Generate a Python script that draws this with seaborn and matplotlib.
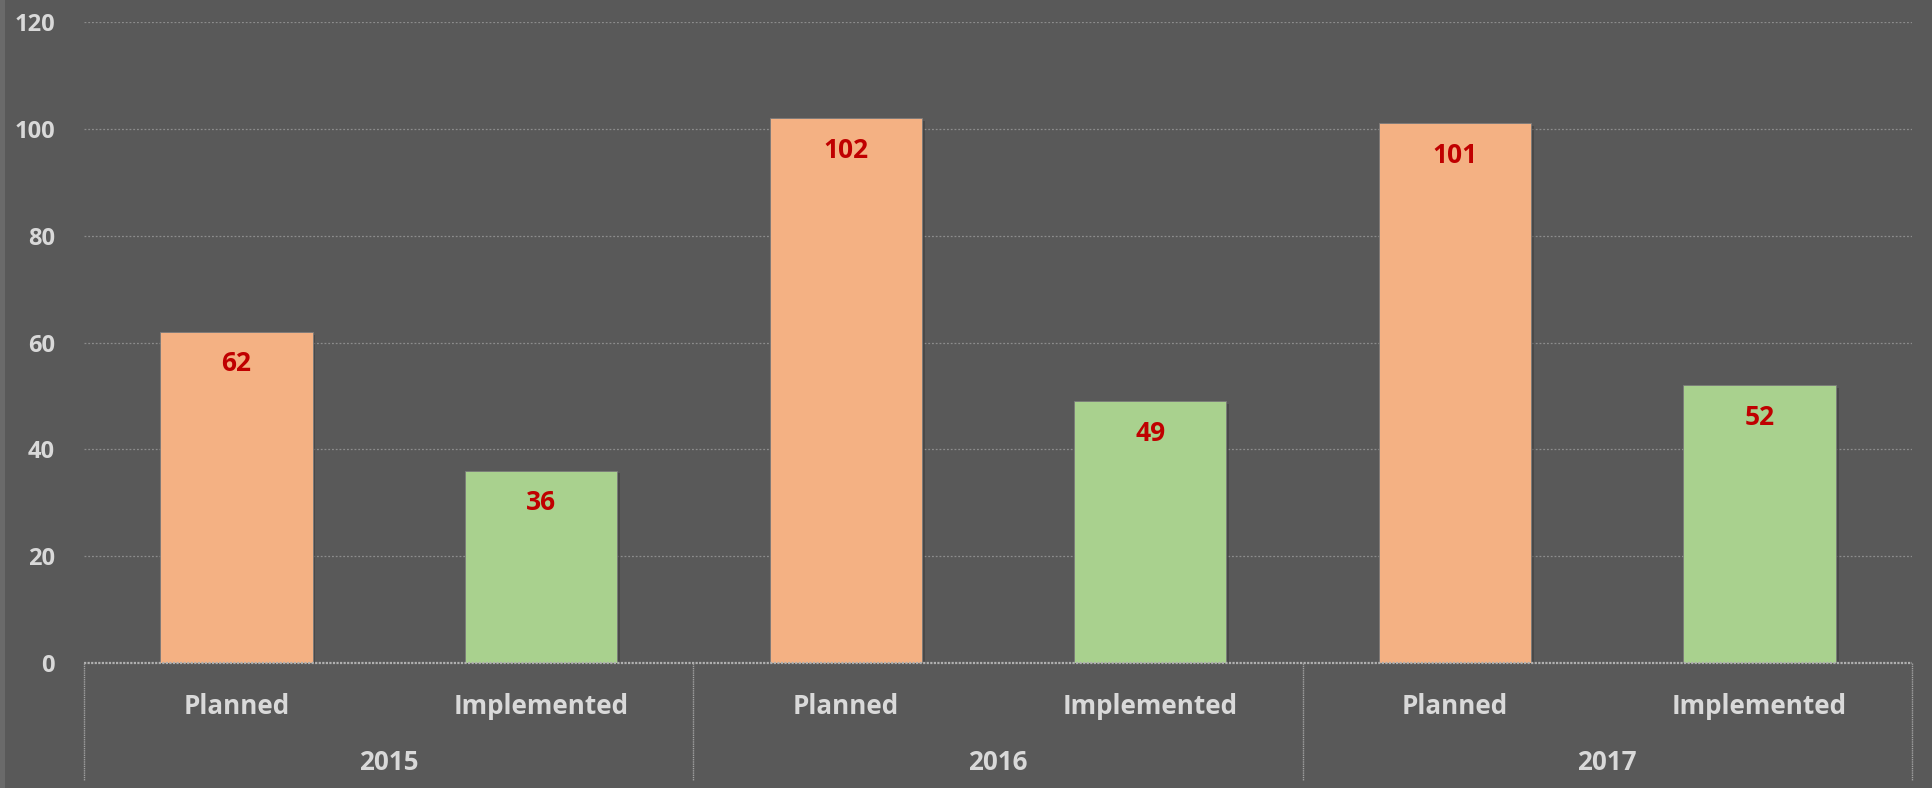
import matplotlib
matplotlib.use("Agg")
import matplotlib.pyplot as plt
import matplotlib.patheffects as pe
import seaborn as sns
import pandas as pd
import numpy as np

years = ["2015", "2016", "2017"]
statuses = ["Planned", "Implemented"]
planned = [62, 102, 101]
implemented = [36, 49, 52]
y_ticks = [0, 20, 40, 60, 80, 100, 120]

BG = "#595959"
TXT = "#D9D9D9"
colors = {"Planned": "#F4B183", "Implemented": "#A9D18E"}

rows = []
for i, yr in enumerate(years):
    rows.append({"key": f"{yr}-Planned", "year": yr, "status": "Planned", "value": planned[i]})
    rows.append({"key": f"{yr}-Implemented", "year": yr, "status": "Implemented", "value": implemented[i]})
df = pd.DataFrame(rows)

sns.set_theme(style="white")
FONT = ["Open Sans", "DejaVu Sans"]
plt.rcParams["font.family"] = FONT
plt.rcParams["font.weight"] = "bold"

fig = plt.figure(figsize=(19.32, 7.88), dpi=100, facecolor=BG)
# light strip at left edge
fig.patches.append(plt.Rectangle((0, 0), 5 / 1932, 1, transform=fig.transFigure,
                                 facecolor="#6a6a6a", edgecolor="none", zorder=0))
ax = fig.add_axes([84 / 1932, 1 - 663 / 788, 1828 / 1932, 641 / 788])
ax.set_facecolor(BG)

sns.barplot(data=df, x="key", y="value", hue="status", palette=colors, saturation=1,
            dodge=False, width=0.5, ax=ax, legend=False, zorder=3,
            edgecolor="#7a7a7a", linewidth=0.6)

for p in ax.patches:
    p.set_path_effects([pe.SimplePatchShadow(offset=(2, -2), shadow_rgbFace="#3a3a3a", alpha=0.5),
                        pe.Normal()])

n = len(df)
ax.set_xlim(-0.5, n - 0.5)
ax.set_ylim(0, 120)
ax.set_yticks(y_ticks)
ax.set_yticklabels([str(t) for t in y_ticks], fontsize=17, fontweight="bold", color=TXT)
ax.tick_params(axis="y", length=0, pad=21)
ax.tick_params(axis="x", length=0, pad=0)
ax.set_xticks([])
ax.set_xlabel("")
ax.set_ylabel("")

for t in y_ticks[1:]:
    ax.axhline(t, color="#8c8c8c", lw=0.9, ls=(0, (1.5, 1.5)), zorder=1)
ax.axhline(0, color="#b0b0b0", lw=1.6, ls=(0, (1, 0.6)), zorder=4, clip_on=False)

for s in ax.spines.values():
    s.set_visible(False)

# value labels
for i, v in enumerate(df["value"]):
    ax.annotate(str(v), (i, v), xytext=(0, -23), textcoords="offset points",
                ha="center", va="center", fontsize=19, fontweight="bold", color="#C00000", zorder=5)

# category labels
trans = ax.get_xaxis_transform()
for i, st in enumerate(df["status"]):
    ax.annotate(st, (i, 0), xycoords=trans, xytext=(0, -31), textcoords="offset points",
                ha="center", va="center", fontsize=18.7, fontweight="bold", color=TXT, annotation_clip=False)

# year labels and separators
per = len(statuses)
for g, yr in enumerate(years):
    center = g * per + (per - 1) / 2
    ax.annotate(yr, (center, 0), xycoords=trans, xytext=(0, -71.5), textcoords="offset points",
                ha="center", va="center", fontsize=18.7, fontweight="bold", color=TXT, annotation_clip=False)
for g in range(len(years) + 1):
    xb = g * per - 0.5
    ax.plot([xb, xb], [0, -117 / 641], transform=trans, color="#a0a0a0", lw=1.0,
            ls=(0, (1, 0.6)), clip_on=False, zorder=4)

fig.savefig("out.png", dpi=100, facecolor=BG)
